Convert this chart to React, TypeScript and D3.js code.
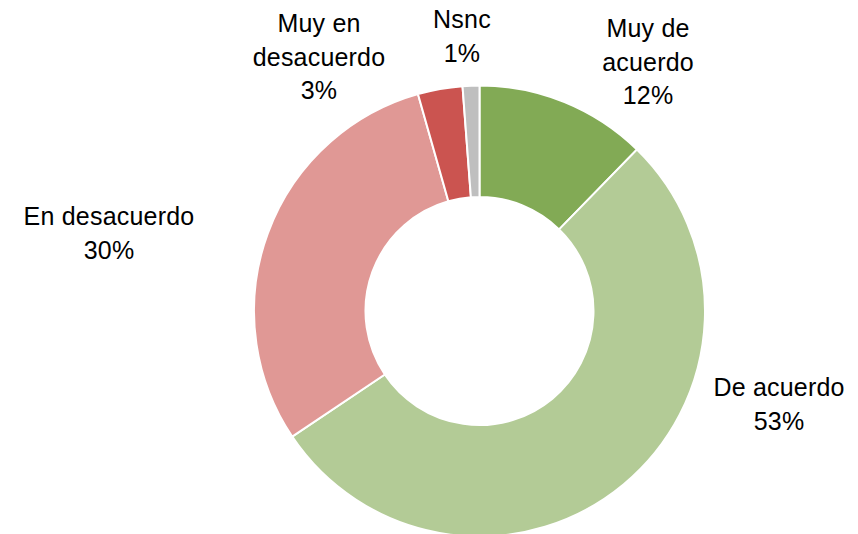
import React from "react";
import * as d3 from "d3";

const categories = ["Muy de acuerdo", "De acuerdo", "En desacuerdo", "Muy en desacuerdo", "Nsnc"];
const values = [12.3, 53.3, 30.0, 3.2, 1.2];
const labelText = ["12%", "53%", "30%", "3%", "1%"];
const labelLines = [["Muy de", "acuerdo"], ["De acuerdo"], ["En desacuerdo"], ["Muy en", "desacuerdo"], ["Nsnc"]];
const colors = ["#82AA55", "#B3CB96", "#E09895", "#CB5450", "#BFBFBF"];

// layout: label anchor (centre x, first baseline y)
const labelPos = [
  [648, 37],
  [779, 396],
  [109, 225],
  [319, 32],
  [462, 28],
];

const W = 858, H = 534;
const cx = 479.5, cy = 311;
const rOuter = 225.5, rInner = 114;

export default function App() {
  const pie = d3.pie<number>().sort(null).value((d) => d)(values);
  const arc = d3.arc<d3.PieArcDatum<number>>().innerRadius(rInner).outerRadius(rOuter);
  const lh = 33.5;
  return (
    <svg width={W} height={H} style={{ position: "absolute", left: 0, top: 0, background: "#fff" }}>
      <g transform={`translate(${cx},${cy})`}>
        {pie.map((p, i) => (
          <path key={i} d={arc(p) || ""} fill={colors[i]} stroke="#fff" strokeWidth={2} />
        ))}
      </g>
      {categories.map((c, i) => {
        const lines = [...labelLines[i], labelText[i]];
        const [x, y] = labelPos[i];
        return (
          <text key={c} x={x} y={y} textAnchor="middle" fontFamily="'Liberation Sans', Arial, sans-serif" fontSize={25} letterSpacing={0.2} fill="#000">
            {lines.map((l, j) => (
              <tspan key={j} x={x} y={y + j * lh}>{l}</tspan>
            ))}
          </text>
        );
      })}
    </svg>
  );
}
